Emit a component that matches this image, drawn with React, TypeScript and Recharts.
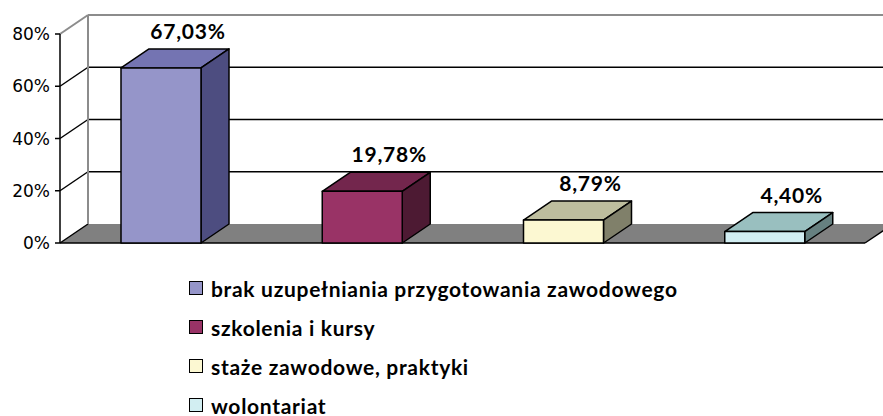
import React from 'react';
import { BarChart, Bar, XAxis, YAxis, CartesianGrid, ReferenceArea } from 'recharts';

// categories and values (percent)
const CATEGORIES = [
  'brak uzupełniania przygotowania zawodowego',
  'szkolenia i kursy',
  'staże zawodowe, praktyki',
  'wolontariat',
];
const VALUES = [67.03, 19.78, 8.79, 4.4];
const Y_TICKS = [0, 20, 40, 60, 80];

// front / top / side shades of each 3D bar
const FRONT = ['#9595c9', '#993366', '#fcf8d2', '#d2eef2'];
const TOP = ['#7474b2', '#73264d', '#bebe9e', '#99bfbf'];
const SIDE = ['#4d4d80', '#4d1a33', '#80806a', '#668080'];

const data = CATEGORIES.map((name, i) => ({ name, value: VALUES[i] }));

// depth of the 3D box (px)
const DX = 28;
const DY = -19;

const Bar3D = (props: any) => {
  const { x, y, width, height } = props;
  const i = props.index ?? CATEGORIES.indexOf(props.payload?.name);
  return (
    <g stroke="#000" strokeWidth={1.5} strokeLinejoin="round">
      <polygon
        points={`${x},${y} ${x + DX},${y + DY} ${x + width + DX},${y + DY} ${x + width},${y}`}
        fill={TOP[i]}
      />
      <polygon
        points={`${x + width},${y} ${x + width + DX},${y + DY} ${x + width + DX},${y + height + DY} ${x + width},${y + height}`}
        fill={SIDE[i]}
      />
      <rect x={x} y={y} width={width} height={height} fill={FRONT[i]} />
    </g>
  );
};

const BarLabel = (props: any) => {
  const { x, y, width, value } = props;
  return (
    <text
      x={x + width / 2 + DX - 1}
      y={y + DY - 10}
      textAnchor="middle"
      fontFamily="Lato, sans-serif"
      fontWeight="bold"
      fontSize={21}
      letterSpacing={0.8}
      fill="#000"
    >
      {Number(value).toFixed(2).replace('.', ',') + '%'}
    </text>
  );
};

// back wall line + left wall diagonal for each inner gridline
const GridLine3D = (props: any) => {
  const { x1, y1, x2 } = props;
  return (
    <g key={props.key} stroke="#000" strokeWidth={1.5}>
      <line x1={x1 + DX} y1={y1 + DY} x2={x2 + DX} y2={y1 + DY} />
      <line x1={x1} y1={y1} x2={x1 + DX} y2={y1 + DY} />
    </g>
  );
};

// floor and back wall outline, from the plot rectangle
const Walls = (props: any) => {
  const { x, y, width, height } = props;
  const b = y + height;
  return (
    <g>
      <polygon
        points={`${x},${b} ${x + width},${b} ${x + width + DX},${b + DY} ${x + DX},${b + DY}`}
        fill="#808080"
      />
      <g stroke="#000" strokeWidth={1.5}>
        <line x1={x} y1={b} x2={x + width} y2={b} />
        <line x1={x} y1={b} x2={x + DX} y2={b + DY} />
        <line x1={x + width} y1={b} x2={x + width + DX} y2={b + DY} />
      </g>
      <g stroke="#8c8c8c" strokeWidth={2}>
        <line x1={x + DX} y1={b + DY} x2={x + DX} y2={y + DY} />
        <line x1={x + DX} y1={y + DY} x2={x + width + DX} y2={y + DY} />
        <line x1={x} y1={y} x2={x + DX} y2={y + DY} />
      </g>
    </g>
  );
};

const Legend3D = () => (
  <div
    style={{
      position: 'absolute',
      left: 189,
      top: 268.5,
      fontFamily: 'Lato, sans-serif',
      fontWeight: 'bold',
      fontSize: 21,
      lineHeight: 1,
      letterSpacing: 0.7,
      whiteSpace: 'nowrap',
    }}
  >
    {CATEGORIES.map((c, i) => (
      <div key={c} style={{ display: 'flex', alignItems: 'center', height: 39 }}>
        <span
          style={{
            display: 'inline-block',
            width: 12,
            height: 12,
            background: FRONT[i],
            border: '1px solid #000',
            marginRight: 8,
          }}
        />
        {c}
      </div>
    ))}
  </div>
);

export default function App() {
  return (
    <div style={{ position: 'absolute', left: 0, top: 0, width: 883, height: 416, background: '#fff', overflow: 'hidden' }}>
      <BarChart
        width={883}
        height={416}
        data={data}
        margin={{ top: 34, right: 18, left: 0, bottom: 173 }}
        style={{ position: 'absolute', left: 0, top: 0 }}
      >
        <CartesianGrid
          vertical={false}
          horizontalValues={[20, 40, 60]}
          horizontal={GridLine3D}
          stroke="#000"
        />
        <ReferenceArea y1={0} y2={80} shape={Walls} ifOverflow="visible" zIndex={-90} />
        <XAxis dataKey="name" hide />
        <YAxis
          width={60}
          domain={[0, 80]}
          ticks={Y_TICKS}
          tickFormatter={(v) => `${v}%`}
          axisLine={{ stroke: '#000', strokeWidth: 1.5 }}
          tickLine={{ stroke: '#000', strokeWidth: 1.5 }}
          tickSize={5}
          tickMargin={5}
          tick={{ fill: '#000', fontFamily: 'DejaVu Sans, sans-serif', fontSize: 17 }}
        />
        <Bar
          dataKey="value"
          barSize={80}
          shape={Bar3D}
          label={BarLabel}
          isAnimationActive={false}
        />
      </BarChart>
      <Legend3D />
    </div>
  );
}
